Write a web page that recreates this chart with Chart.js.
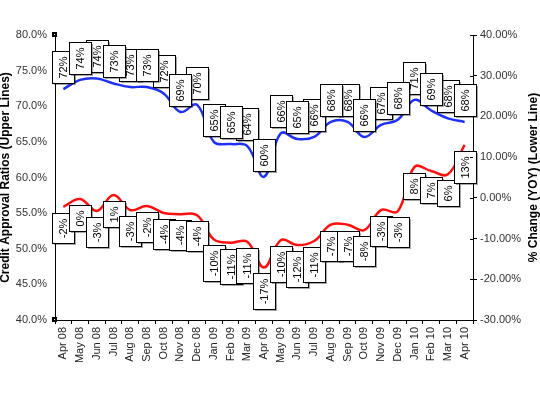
<!DOCTYPE html>
<html>
<head>
<meta charset="utf-8">
<script src="https://cdn.jsdelivr.net/npm/chart.js@4/dist/chart.umd.min.js"></script>
<style>
    html, body { margin: 0; padding: 0; background: #fff; }
    #chart { display: block; }
</style>
</head>
<body>
<canvas id="chart" width="540" height="395"></canvas>
<script>
// Monthly categories, Apr 08 .. Apr 10
const months = ['Apr 08', 'May 08', 'Jun 08', 'Jul 08', 'Aug 08', 'Sep 08', 'Oct 08', 'Nov 08', 'Dec 08',
    'Jan 09', 'Feb 09', 'Mar 09', 'Apr 09', 'May 09', 'Jun 09', 'Jul 09', 'Aug 09', 'Sep 09', 'Oct 09',
    'Nov 09', 'Dec 09', 'Jan 10', 'Feb 10', 'Mar 10', 'Apr 10'];

// Credit approval ratio (left axis, %) and its printed labels
const approvalRatio = [72.4, 73.7, 73.9, 73.2, 72.7, 72.7, 71.8, 69.2, 70.2, 65.0, 64.7, 64.4, 60.1,
    66.2, 65.4, 65.7, 67.8, 67.8, 65.7, 67.4, 68.1, 70.9, 69.4, 68.3, 67.8];
const approvalLabels = [72, 74, 74, 73, 73, 73, 72, 69, 70, 65, 65, 64, 60, 66, 65, 66, 68, 68, 66, 67, 68, 71, 69, 68, 68];

// Year-over-year change (right axis, %) and its printed labels
const yoyChange = [-2.2, -0.3, -3.2, 0.7, -3.0, -2.0, -3.7, -4.0, -4.3, -10.2, -11.0, -10.8, -17.1,
    -10.4, -11.6, -10.6, -6.6, -6.6, -7.9, -3.0, -3.3, 7.6, 6.6, 5.8, 13.0];
const yoyLabels = [-2, 0, -3, 1, -3, -2, -4, -4, -4, -10, -11, -11, -17, -10, -12, -11, -7, -7, -8, -3, -3, 8, 7, 6, 13];

// Axis ranges
const leftMin = 40, leftMax = 80, leftStep = 5;
const rightMin = -30, rightMax = 40, rightStep = 10;

const FONT = '"Liberation Sans", Arial, sans-serif';
const BLUE = '#1f32f5';
const RED  = '#ff1010';

// labels of the upper line that sit behind their neighbours
const BLUE_BACK = [2, 4, 6, 8, 9, 11, 13, 15, 17, 19, 21, 23];

// White boxed, rotated data labels with a small shadow
const labelBoxes = {
    id: 'labelBoxes',
    afterDatasetsDraw(chart) {
        const ctx = chart.ctx;
        ctx.save();
        ctx.font = '11px ' + FONT;

        const drawBox = (pt, text, above) => {
            const tw = ctx.measureText(text).width;
            const w = 22, h = Math.round(tw + 10);
            const x = Math.round(pt.x - w / 2);
            const y = Math.round(above ? pt.y - 6 - h : pt.y + 6);
            ctx.save();
            ctx.shadowColor = 'rgba(0,0,0,0.35)';
            ctx.shadowOffsetX = 2;
            ctx.shadowOffsetY = 2;
            ctx.fillStyle = '#fff';
            ctx.fillRect(x, y, w, h);
            ctx.restore();
            ctx.strokeStyle = '#000';
            ctx.lineWidth = 1;
            ctx.strokeRect(x + 0.5, y + 0.5, w, h);
            ctx.save();
            ctx.translate(x + w / 2 + 1, y + h / 2 + 0.5);
            ctx.rotate(-Math.PI / 2);
            ctx.fillStyle = '#000';
            ctx.textAlign = 'center';
            ctx.textBaseline = 'middle';
            ctx.fillText(text, 0, 0);
            ctx.restore();
        };

        const red = chart.getDatasetMeta(1).data;
        red.forEach((pt, i) => drawBox(pt, yoyLabels[i] + '%', false));

        const blue = chart.getDatasetMeta(0).data;
        const order = BLUE_BACK.concat(blue.map((_, i) => i).filter(i => !BLUE_BACK.includes(i)));
        order.forEach(i => drawBox(blue[i], approvalLabels[i] + '%', true));
        ctx.restore();
    }
};

// Axis titles, inner half of right-axis ticks and the corner handles
const decorations = {
    id: 'decorations',
    afterDraw(chart) {
        const ctx = chart.ctx;
        const area = chart.chartArea;
        const midY = (area.top + area.bottom) / 2;
        ctx.save();
        ctx.fillStyle = '#000';
        ctx.font = 'bold 12px ' + FONT;
        ctx.textAlign = 'center';
        ctx.textBaseline = 'middle';

        ctx.save();
        ctx.translate(6, midY);
        ctx.rotate(-Math.PI / 2);
        ctx.fillText('Credit Approval Ratios (Upper Lines)', 0, 0);
        ctx.restore();

        ctx.save();
        ctx.translate(534, midY);
        ctx.rotate(-Math.PI / 2);
        ctx.fillText('% Change (YOY) (Lower Line)', 0, 0);
        ctx.restore();

        const yr = chart.scales.yRight;
        ctx.strokeStyle = '#000';
        ctx.lineWidth = 1;
        yr.ticks.forEach((t, i) => {
            const y = Math.round(yr.getPixelForTick(i)) + 0.5;
            ctx.beginPath();
            ctx.moveTo(area.right - 3, y);
            ctx.lineTo(area.right, y);
            ctx.stroke();
        });

        [area.top, area.bottom].forEach(y => {
            const x0 = Math.round(area.left) - 3, y0 = Math.round(y) - 3;
            ctx.fillStyle = '#000';
            ctx.fillRect(x0, y0, 5, 5);
            ctx.fillStyle = '#fff';
            ctx.fillRect(x0 + 2, y0 + 2, 1, 1);
        });
        ctx.restore();
    }
};

new Chart(document.getElementById('chart'), {
    type: 'line',
    data: {
        labels: months,
        datasets: [
            {
                label: 'Credit Approval Ratio',
                data: approvalRatio,
                yAxisID: 'yLeft',
                borderColor: BLUE,
                borderWidth: 2.5,
                pointRadius: 0,
                tension: 0.4,
                fill: false,
            },
            {
                label: '% Change (YOY)',
                data: yoyChange,
                yAxisID: 'yRight',
                borderColor: RED,
                borderWidth: 2.5,
                pointRadius: 0,
                tension: 0.4,
                fill: false,
            },
        ],
    },
    options: {
        responsive: false,
        animation: false,
        events: [],
        layout: { padding: { top: 35, left: 0, right: 0, bottom: 0 } },
        plugins: { legend: { display: false }, tooltip: { enabled: false } },
        scales: {
            x: {
                offset: true,
                grid: { display: true, drawOnChartArea: false, offset: true, drawTicks: true, tickLength: 4, color: '#000' },
                border: { display: true, color: '#000', width: 1 },
                ticks: {
                    autoSkip: false, maxRotation: 90, minRotation: 90, padding: 3,
                    color: '#222', font: { family: FONT, size: 11 },
                },
                afterFit: s => { s.height = 75; },
            },
            yLeft: {
                position: 'left',
                min: leftMin, max: leftMax,
                grid: { display: false, drawTicks: false },
                border: { display: true, color: '#000', width: 1 },
                ticks: {
                    stepSize: leftStep, padding: 8,
                    color: '#333', font: { family: FONT, size: 11 },
                    callback: v => v.toFixed(1) + '%',
                },
                afterFit: s => { s.width = 55; },
            },
            yRight: {
                position: 'right',
                min: rightMin, max: rightMax,
                grid: { display: true, drawOnChartArea: false, drawTicks: true, tickLength: 4, color: '#000' },
                border: { display: true, color: '#000', width: 1 },
                ticks: {
                    stepSize: rightStep, padding: 3,
                    color: '#333', font: { family: FONT, size: 11 },
                    callback: v => v.toFixed(2) + '%',
                },
                afterFit: s => { s.width = 67; },
            },
        },
    },
    plugins: [labelBoxes, decorations],
});
</script>
</body>
</html>
